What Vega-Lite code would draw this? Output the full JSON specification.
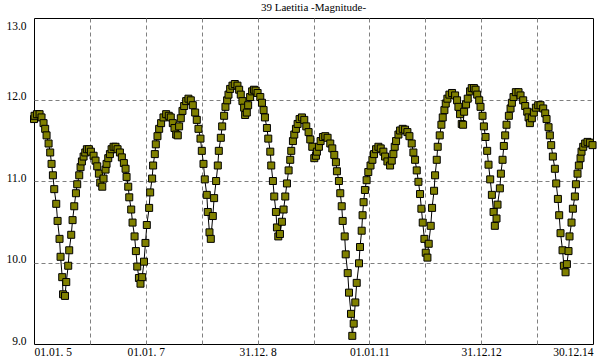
{
  "$schema": "https://vega.github.io/schema/vega-lite/v6.json",
  "width": 559,
  "height": 326,
  "autosize": {"type": "none"},
  "padding": {"left": 34, "top": 18, "right": 7, "bottom": 16},
  "background": "white",
  "title": {"text": "39 Laetitia -Magnitude-", "font": "Liberation Serif, serif", "fontSize": 11, "fontWeight": "normal", "color": "black", "anchor": "middle", "offset": 5},
  "config": {"view": {"stroke": "black", "strokeWidth": 1}},
  "data": {"values": [
    {"year": 2005.000, "mag": 11.76}, {"year": 2005.010, "mag": 11.80}, {"year": 2005.052, "mag": 11.82}, {"year": 2005.100, "mag": 11.82},
    {"year": 2005.135, "mag": 11.78}, {"year": 2005.171, "mag": 11.71}, {"year": 2005.200, "mag": 11.64}, {"year": 2005.225, "mag": 11.56},
    {"year": 2005.261, "mag": 11.46}, {"year": 2005.290, "mag": 11.35}, {"year": 2005.314, "mag": 11.21}, {"year": 2005.338, "mag": 11.07},
    {"year": 2005.362, "mag": 10.90}, {"year": 2005.398, "mag": 10.72}, {"year": 2005.422, "mag": 10.51}, {"year": 2005.457, "mag": 10.29},
    {"year": 2005.475, "mag": 10.07}, {"year": 2005.505, "mag": 9.82}, {"year": 2005.520, "mag": 9.61}, {"year": 2005.555, "mag": 9.59},
    {"year": 2005.577, "mag": 9.76}, {"year": 2005.612, "mag": 9.96}, {"year": 2005.630, "mag": 10.15}, {"year": 2005.666, "mag": 10.34},
    {"year": 2005.690, "mag": 10.52}, {"year": 2005.720, "mag": 10.69}, {"year": 2005.750, "mag": 10.85}, {"year": 2005.773, "mag": 10.96},
    {"year": 2005.809, "mag": 11.07}, {"year": 2005.833, "mag": 11.17}, {"year": 2005.857, "mag": 11.24}, {"year": 2005.887, "mag": 11.30},
    {"year": 2005.917, "mag": 11.35}, {"year": 2005.946, "mag": 11.39}, {"year": 2005.982, "mag": 11.39}, {"year": 2006.018, "mag": 11.36},
    {"year": 2006.066, "mag": 11.31}, {"year": 2006.101, "mag": 11.25}, {"year": 2006.131, "mag": 11.18}, {"year": 2006.161, "mag": 11.09},
    {"year": 2006.185, "mag": 10.98}, {"year": 2006.221, "mag": 10.93}, {"year": 2006.244, "mag": 11.03}, {"year": 2006.280, "mag": 11.14},
    {"year": 2006.298, "mag": 11.21}, {"year": 2006.328, "mag": 11.28}, {"year": 2006.358, "mag": 11.33}, {"year": 2006.388, "mag": 11.39},
    {"year": 2006.423, "mag": 11.42}, {"year": 2006.459, "mag": 11.42}, {"year": 2006.495, "mag": 11.39}, {"year": 2006.537, "mag": 11.35},
    {"year": 2006.572, "mag": 11.29}, {"year": 2006.608, "mag": 11.22}, {"year": 2006.638, "mag": 11.15}, {"year": 2006.656, "mag": 11.05},
    {"year": 2006.686, "mag": 10.93}, {"year": 2006.704, "mag": 10.80}, {"year": 2006.739, "mag": 10.65}, {"year": 2006.763, "mag": 10.49},
    {"year": 2006.799, "mag": 10.32}, {"year": 2006.823, "mag": 10.14}, {"year": 2006.847, "mag": 9.95}, {"year": 2006.877, "mag": 9.81},
    {"year": 2006.905, "mag": 9.74}, {"year": 2006.935, "mag": 9.82}, {"year": 2006.968, "mag": 10.01}, {"year": 2006.994, "mag": 10.24},
    {"year": 2007.018, "mag": 10.46}, {"year": 2007.060, "mag": 10.67}, {"year": 2007.078, "mag": 10.86}, {"year": 2007.113, "mag": 11.03},
    {"year": 2007.131, "mag": 11.19}, {"year": 2007.161, "mag": 11.33}, {"year": 2007.179, "mag": 11.45}, {"year": 2007.209, "mag": 11.55},
    {"year": 2007.239, "mag": 11.64}, {"year": 2007.274, "mag": 11.71}, {"year": 2007.316, "mag": 11.78}, {"year": 2007.364, "mag": 11.82},
    {"year": 2007.411, "mag": 11.80}, {"year": 2007.447, "mag": 11.78}, {"year": 2007.483, "mag": 11.71}, {"year": 2007.513, "mag": 11.65},
    {"year": 2007.543, "mag": 11.57}, {"year": 2007.572, "mag": 11.56}, {"year": 2007.596, "mag": 11.67}, {"year": 2007.626, "mag": 11.77},
    {"year": 2007.656, "mag": 11.86}, {"year": 2007.686, "mag": 11.92}, {"year": 2007.722, "mag": 11.98}, {"year": 2007.763, "mag": 12.01},
    {"year": 2007.805, "mag": 11.99}, {"year": 2007.841, "mag": 11.93}, {"year": 2007.883, "mag": 11.84}, {"year": 2007.912, "mag": 11.75},
    {"year": 2007.942, "mag": 11.64}, {"year": 2007.978, "mag": 11.52}, {"year": 2008.002, "mag": 11.37}, {"year": 2008.032, "mag": 11.21},
    {"year": 2008.055, "mag": 11.02}, {"year": 2008.091, "mag": 10.83}, {"year": 2008.109, "mag": 10.62}, {"year": 2008.139, "mag": 10.37},
    {"year": 2008.163, "mag": 10.29}, {"year": 2008.199, "mag": 10.57}, {"year": 2008.222, "mag": 10.79}, {"year": 2008.258, "mag": 11.00},
    {"year": 2008.288, "mag": 11.19}, {"year": 2008.306, "mag": 11.37}, {"year": 2008.342, "mag": 11.53}, {"year": 2008.366, "mag": 11.67},
    {"year": 2008.401, "mag": 11.80}, {"year": 2008.425, "mag": 11.91}, {"year": 2008.455, "mag": 11.99}, {"year": 2008.479, "mag": 12.06},
    {"year": 2008.509, "mag": 12.13}, {"year": 2008.550, "mag": 12.17}, {"year": 2008.592, "mag": 12.19}, {"year": 2008.640, "mag": 12.17},
    {"year": 2008.670, "mag": 12.12}, {"year": 2008.699, "mag": 12.06}, {"year": 2008.729, "mag": 11.98}, {"year": 2008.759, "mag": 11.90},
    {"year": 2008.777, "mag": 11.81}, {"year": 2008.807, "mag": 11.84}, {"year": 2008.831, "mag": 11.93}, {"year": 2008.866, "mag": 12.03},
    {"year": 2008.902, "mag": 12.10}, {"year": 2008.935, "mag": 12.12}, {"year": 2008.965, "mag": 12.11}, {"year": 2009.000, "mag": 12.08},
    {"year": 2009.048, "mag": 12.03}, {"year": 2009.078, "mag": 11.96}, {"year": 2009.107, "mag": 11.87}, {"year": 2009.131, "mag": 11.78},
    {"year": 2009.167, "mag": 11.65}, {"year": 2009.191, "mag": 11.52}, {"year": 2009.227, "mag": 11.36}, {"year": 2009.244, "mag": 11.19},
    {"year": 2009.274, "mag": 11.00}, {"year": 2009.298, "mag": 10.81}, {"year": 2009.328, "mag": 10.62}, {"year": 2009.346, "mag": 10.43},
    {"year": 2009.370, "mag": 10.32}, {"year": 2009.400, "mag": 10.35}, {"year": 2009.435, "mag": 10.50}, {"year": 2009.465, "mag": 10.65},
    {"year": 2009.495, "mag": 10.81}, {"year": 2009.525, "mag": 10.97}, {"year": 2009.555, "mag": 11.13}, {"year": 2009.584, "mag": 11.26},
    {"year": 2009.602, "mag": 11.37}, {"year": 2009.632, "mag": 11.49}, {"year": 2009.656, "mag": 11.57}, {"year": 2009.686, "mag": 11.64},
    {"year": 2009.716, "mag": 11.70}, {"year": 2009.751, "mag": 11.76}, {"year": 2009.793, "mag": 11.78}, {"year": 2009.835, "mag": 11.75},
    {"year": 2009.871, "mag": 11.67}, {"year": 2009.912, "mag": 11.60}, {"year": 2009.942, "mag": 11.51}, {"year": 2009.978, "mag": 11.42},
    {"year": 2010.014, "mag": 11.28}, {"year": 2010.044, "mag": 11.31}, {"year": 2010.061, "mag": 11.36}, {"year": 2010.097, "mag": 11.42},
    {"year": 2010.127, "mag": 11.49}, {"year": 2010.169, "mag": 11.54}, {"year": 2010.211, "mag": 11.55}, {"year": 2010.252, "mag": 11.53},
    {"year": 2010.300, "mag": 11.46}, {"year": 2010.336, "mag": 11.40}, {"year": 2010.372, "mag": 11.32}, {"year": 2010.401, "mag": 11.23},
    {"year": 2010.419, "mag": 11.12}, {"year": 2010.455, "mag": 11.00}, {"year": 2010.479, "mag": 10.85}, {"year": 2010.505, "mag": 10.69},
    {"year": 2010.522, "mag": 10.51}, {"year": 2010.558, "mag": 10.32}, {"year": 2010.576, "mag": 10.10}, {"year": 2010.612, "mag": 9.87},
    {"year": 2010.635, "mag": 9.63}, {"year": 2010.671, "mag": 9.37}, {"year": 2010.694, "mag": 9.10}, {"year": 2010.719, "mag": 9.25},
    {"year": 2010.748, "mag": 9.51}, {"year": 2010.773, "mag": 9.75}, {"year": 2010.814, "mag": 9.99}, {"year": 2010.832, "mag": 10.19},
    {"year": 2010.862, "mag": 10.39}, {"year": 2010.878, "mag": 10.58}, {"year": 2010.896, "mag": 10.74}, {"year": 2010.920, "mag": 10.89},
    {"year": 2010.950, "mag": 11.01}, {"year": 2010.980, "mag": 11.11}, {"year": 2011.020, "mag": 11.19}, {"year": 2011.054, "mag": 11.26},
    {"year": 2011.083, "mag": 11.33}, {"year": 2011.119, "mag": 11.39}, {"year": 2011.161, "mag": 11.42}, {"year": 2011.203, "mag": 11.40},
    {"year": 2011.250, "mag": 11.36}, {"year": 2011.280, "mag": 11.30}, {"year": 2011.322, "mag": 11.24}, {"year": 2011.370, "mag": 11.19},
    {"year": 2011.400, "mag": 11.25}, {"year": 2011.429, "mag": 11.33}, {"year": 2011.453, "mag": 11.42}, {"year": 2011.477, "mag": 11.49},
    {"year": 2011.519, "mag": 11.57}, {"year": 2011.549, "mag": 11.62}, {"year": 2011.596, "mag": 11.64}, {"year": 2011.638, "mag": 11.63},
    {"year": 2011.680, "mag": 11.60}, {"year": 2011.716, "mag": 11.55}, {"year": 2011.757, "mag": 11.46}, {"year": 2011.787, "mag": 11.35},
    {"year": 2011.817, "mag": 11.26}, {"year": 2011.847, "mag": 11.13}, {"year": 2011.877, "mag": 10.99}, {"year": 2011.906, "mag": 10.84},
    {"year": 2011.930, "mag": 10.66}, {"year": 2011.954, "mag": 10.49}, {"year": 2011.984, "mag": 10.29}, {"year": 2012.008, "mag": 10.12},
    {"year": 2012.038, "mag": 10.06}, {"year": 2012.061, "mag": 10.23}, {"year": 2012.097, "mag": 10.45}, {"year": 2012.121, "mag": 10.67},
    {"year": 2012.157, "mag": 10.88}, {"year": 2012.175, "mag": 11.07}, {"year": 2012.205, "mag": 11.26}, {"year": 2012.222, "mag": 11.42},
    {"year": 2012.258, "mag": 11.56}, {"year": 2012.288, "mag": 11.69}, {"year": 2012.312, "mag": 11.78}, {"year": 2012.342, "mag": 11.87},
    {"year": 2012.366, "mag": 11.95}, {"year": 2012.395, "mag": 12.01}, {"year": 2012.431, "mag": 12.06}, {"year": 2012.479, "mag": 12.08},
    {"year": 2012.533, "mag": 12.05}, {"year": 2012.568, "mag": 11.99}, {"year": 2012.592, "mag": 11.91}, {"year": 2012.622, "mag": 11.82},
    {"year": 2012.652, "mag": 11.70}, {"year": 2012.676, "mag": 11.69}, {"year": 2012.694, "mag": 11.85}, {"year": 2012.729, "mag": 11.94},
    {"year": 2012.759, "mag": 12.01}, {"year": 2012.801, "mag": 12.10}, {"year": 2012.831, "mag": 12.14}, {"year": 2012.870, "mag": 12.14},
    {"year": 2012.900, "mag": 12.12}, {"year": 2012.928, "mag": 12.06}, {"year": 2012.964, "mag": 11.99}, {"year": 2012.988, "mag": 11.91},
    {"year": 2013.024, "mag": 11.80}, {"year": 2013.048, "mag": 11.67}, {"year": 2013.078, "mag": 11.54}, {"year": 2013.107, "mag": 11.37},
    {"year": 2013.131, "mag": 11.20}, {"year": 2013.161, "mag": 11.02}, {"year": 2013.191, "mag": 10.83}, {"year": 2013.221, "mag": 10.62},
    {"year": 2013.244, "mag": 10.45}, {"year": 2013.274, "mag": 10.54}, {"year": 2013.292, "mag": 10.71}, {"year": 2013.334, "mag": 10.91},
    {"year": 2013.352, "mag": 11.09}, {"year": 2013.382, "mag": 11.26}, {"year": 2013.405, "mag": 11.43}, {"year": 2013.429, "mag": 11.56},
    {"year": 2013.453, "mag": 11.69}, {"year": 2013.495, "mag": 11.80}, {"year": 2013.525, "mag": 11.89}, {"year": 2013.549, "mag": 11.96},
    {"year": 2013.578, "mag": 12.03}, {"year": 2013.620, "mag": 12.09}, {"year": 2013.668, "mag": 12.09}, {"year": 2013.704, "mag": 12.05},
    {"year": 2013.751, "mag": 11.99}, {"year": 2013.787, "mag": 11.92}, {"year": 2013.823, "mag": 11.85}, {"year": 2013.847, "mag": 11.78},
    {"year": 2013.871, "mag": 11.71}, {"year": 2013.906, "mag": 11.77}, {"year": 2013.942, "mag": 11.84}, {"year": 2013.978, "mag": 11.90},
    {"year": 2014.020, "mag": 11.93}, {"year": 2014.061, "mag": 11.93}, {"year": 2014.109, "mag": 11.89}, {"year": 2014.145, "mag": 11.83},
    {"year": 2014.169, "mag": 11.76}, {"year": 2014.205, "mag": 11.66}, {"year": 2014.228, "mag": 11.56}, {"year": 2014.252, "mag": 11.44},
    {"year": 2014.282, "mag": 11.30}, {"year": 2014.318, "mag": 11.15}, {"year": 2014.342, "mag": 10.97}, {"year": 2014.372, "mag": 10.78},
    {"year": 2014.395, "mag": 10.58}, {"year": 2014.419, "mag": 10.36}, {"year": 2014.455, "mag": 10.15}, {"year": 2014.479, "mag": 9.96},
    {"year": 2014.509, "mag": 9.88}, {"year": 2014.533, "mag": 9.98}, {"year": 2014.562, "mag": 10.14}, {"year": 2014.580, "mag": 10.32},
    {"year": 2014.616, "mag": 10.49}, {"year": 2014.640, "mag": 10.66}, {"year": 2014.676, "mag": 10.81}, {"year": 2014.694, "mag": 10.96},
    {"year": 2014.723, "mag": 11.09}, {"year": 2014.747, "mag": 11.19}, {"year": 2014.777, "mag": 11.28}, {"year": 2014.795, "mag": 11.36},
    {"year": 2014.825, "mag": 11.42}, {"year": 2014.860, "mag": 11.46}, {"year": 2014.902, "mag": 11.48}, {"year": 2014.944, "mag": 11.47},
    {"year": 2014.992, "mag": 11.44}
  ]},
  "encoding": {
    "x": {
      "field": "year", "type": "quantitative",
      "scale": {"domain": [2005, 2015], "nice": false, "zero": false},
      "axis": {
        "title": null,
        "values": [2005, 2006, 2007, 2008, 2009, 2010, 2011, 2012, 2013, 2014, 2015],
        "labelExpr": "datum.value == 2005 ? '01.01. 5' : datum.value == 2007 ? '01.01. 7' : datum.value == 2009 ? '31.12. 8' : datum.value == 2011 ? '01.01.11' : datum.value == 2013 ? '31.12.12' : datum.value == 2015 ? '30.12.14' : ''",
        "labelFlush": true,
        "labelOverlap": false,
        "labelFont": "Liberation Serif, serif",
        "labelFontSize": 11.5,
        "labelColor": "black",
        "labelPadding": 2,
        "ticks": false,
        "domain": false,
        "grid": true,
        "gridColor": {"condition": {"test": "datum.value == 2005 || datum.value == 2015", "value": "transparent"}, "value": "#808080"},
        "gridDash": [4, 3],
        "gridWidth": 1
      }
    },
    "y": {
      "field": "mag", "type": "quantitative",
      "scale": {"domain": [9, 13], "nice": false, "zero": false},
      "axis": {
        "title": null,
        "values": [9, 10, 11, 12, 13],
        "format": ".1f",
        "labelFont": "Liberation Serif, serif",
        "labelFontSize": 11.5,
        "labelColor": "black",
        "labelPadding": 8,
        "labelOverlap": false,
        "labelBaseline": {"condition": {"test": "datum.value == 13", "value": "top"}, "value": "alphabetic"},
        "labelOffset": {"condition": {"test": "datum.value == 13", "value": 2}, "value": 0},
        "ticks": false,
        "domain": false,
        "grid": true,
        "gridColor": {"condition": {"test": "datum.value == 9 || datum.value == 13", "value": "transparent"}, "value": "#808080"},
        "gridDash": [4, 3],
        "gridWidth": 1
      }
    }
  },
  "layer": [
    {"mark": {"type": "line", "color": "black", "strokeWidth": 1}},
    {"mark": {"type": "square", "size": 49, "filled": true, "color": "#808000", "stroke": "black", "strokeWidth": 1, "opacity": 1}}
  ]
}
